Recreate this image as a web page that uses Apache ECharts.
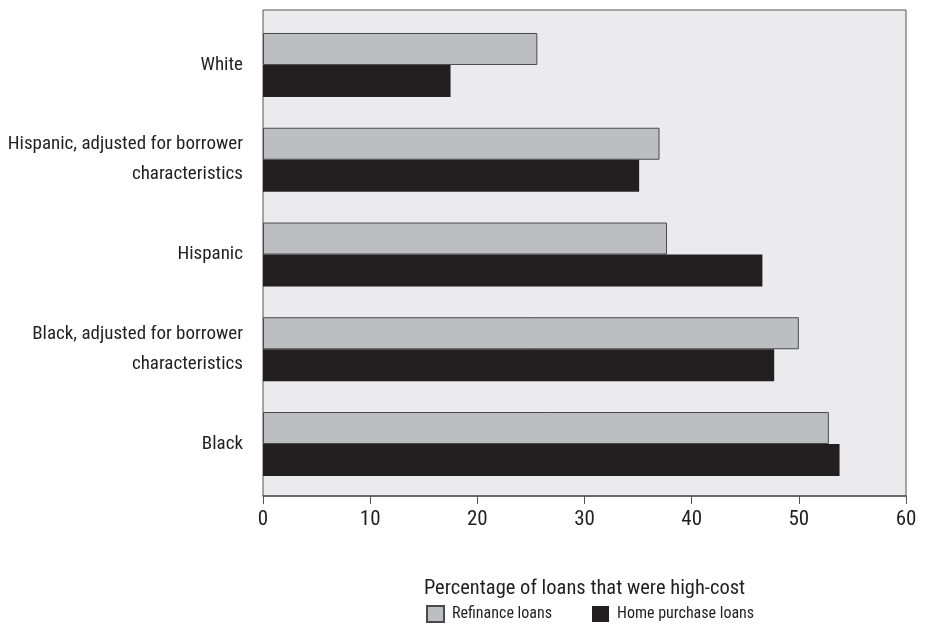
<!DOCTYPE html>
<html>
<head>
<meta charset="utf-8">
<script src="https://cdn.jsdelivr.net/npm/echarts@6/dist/echarts.min.js"></script>
<style>html,body{margin:0;padding:0;background:#fff}#c{width:927px;height:627px}</style>
</head>
<body>
<div id="c"></div>
<script>
const categories = [
  "White",
  "Hispanic, adjusted for borrower\ncharacteristics",
  "Hispanic",
  "Black, adjusted for borrower\ncharacteristics",
  "Black"
];
const refinanceLoans = [25.6, 37.0, 37.7, 50.0, 52.8];
const homePurchaseLoans = [17.5, 35.1, 46.6, 47.7, 53.8];
const xTicks = [0, 10, 20, 30, 40, 50, 60];

const FONT = '"Roboto Condensed", "Liberation Sans", sans-serif';
const chart = echarts.init(document.getElementById('c'), null, {renderer: 'canvas'});
chart.setOption({
  animation: false,
  textStyle: {fontFamily: FONT, color: '#231f20'},
  grid: [
    {left: 263, right: 21, top: 10, bottom: 131, outerBoundsMode: 'none', show: true, backgroundColor: '#ebebed', borderColor: '#555', borderWidth: 1},
    {left: 263, right: 21, top: 17.6, bottom: 135.6, outerBoundsMode: 'none'}
  ],
  xAxis: [
    {gridIndex: 0, type: 'value', min: xTicks[0], max: xTicks[xTicks.length - 1], interval: 10,
     splitLine: {show: false},
     axisLine: {show: true, lineStyle: {color: '#555', width: 1.5}},
     axisTick: {show: true, length: 8, lineStyle: {color: '#555', width: 1}},
     axisLabel: {fontFamily: FONT, fontSize: 21, color: '#231f20', margin: 13},
     name: 'Percentage of loans that were high-cost', nameLocation: 'middle', nameGap: 82,
     nameTextStyle: {fontFamily: FONT, fontSize: 20.5, color: '#231f20'}},
    {gridIndex: 1, type: 'value', min: 0, max: 60, show: false}
  ],
  yAxis: [
    {gridIndex: 0, type: 'value', show: false},
    {gridIndex: 1, type: 'category', data: categories, inverse: true,
     axisLine: {show: false}, axisTick: {show: false},
     axisLabel: {fontFamily: FONT, fontSize: 19, color: '#231f20', margin: 20, lineHeight: 30, align: 'right'}}
  ],
  legend: {
    left: 426, top: 605, padding: 0, itemWidth: 17, itemHeight: 16, itemGap: 40, icon: 'rect',
    textStyle: {fontFamily: FONT, fontSize: 16, color: '#231f20', padding: [0, 0, 0, 3]},
    data: ['Refinance loans', 'Home purchase loans']
  },
  series: [
    {name: 'Refinance loans', type: 'bar', xAxisIndex: 1, yAxisIndex: 1, data: refinanceLoans,
     barWidth: 32, barGap: '0%',
     itemStyle: {color: '#bdbec1', borderColor: '#4a4a4a', borderWidth: 1}},
    {name: 'Home purchase loans', type: 'bar', xAxisIndex: 1, yAxisIndex: 1, data: homePurchaseLoans,
     barWidth: 32, barGap: '0%',
     itemStyle: {color: '#231f20'}}
  ]
});
</script>
</body>
</html>
